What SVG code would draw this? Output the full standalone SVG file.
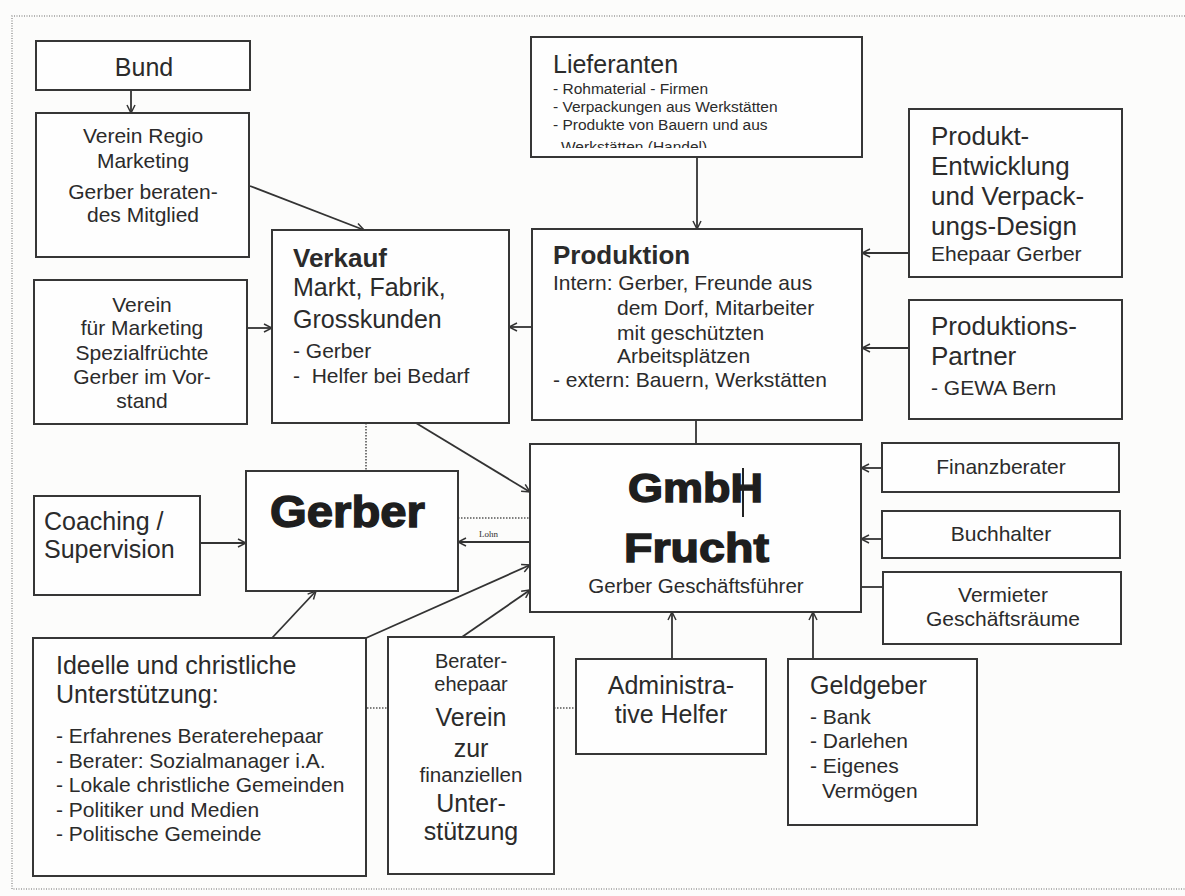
<svg xmlns="http://www.w3.org/2000/svg" width="1185" height="896" viewBox="0 0 1185 896">
<defs>
<style>
.bg{fill:#fcfcfb}
.box{fill:#fefefe;stroke:#363636;stroke-width:2}
.t{font-family:"Liberation Sans",Arial,sans-serif;fill:#2b2b2b}
.c{text-anchor:middle}
.b{font-weight:bold}
.heavy{font-weight:bold;stroke:#1e1e1e;stroke-width:1.4;fill:#1e1e1e}
.ln{stroke:#333;stroke-width:1.8;fill:none}
.arr{marker-end:url(#ah)}
.dot{stroke:#555;stroke-width:1.6;stroke-dasharray:1.5 1.5;fill:none}
.frame{stroke:#9a9a9a;stroke-width:1.5;stroke-dasharray:1 1.5;fill:none}
</style>
<marker id="ah" viewBox="0 0 10 10" refX="9" refY="5" markerWidth="10" markerHeight="10" markerUnits="userSpaceOnUse" orient="auto">
<path d="M1,1 L9,5 L1,9" fill="none" stroke="#333" stroke-width="1.5"/>
</marker>
<clipPath id="liefclip"><rect x="531" y="37" width="331" height="111"/></clipPath>
</defs>
<rect class="bg" x="0" y="0" width="1185" height="896"/>
<path class="frame" d="M1185,16 H12 V889 H1185"/>

<g id="connectors">
<line class="ln arr" x1="131" y1="90" x2="131" y2="113"/>
<line class="ln arr" x1="250" y1="186" x2="364" y2="230"/>
<line class="ln arr" x1="247" y1="328" x2="272" y2="328"/>
<line class="ln arr" x1="532" y1="327" x2="509" y2="327"/>
<line class="ln arr" x1="697" y1="157" x2="697" y2="229"/>
<line class="ln arr" x1="909" y1="253" x2="862" y2="253"/>
<line class="ln arr" x1="909" y1="348" x2="862" y2="348"/>
<line class="ln" x1="696" y1="420" x2="696" y2="444"/>
<line class="ln arr" x1="416" y1="423" x2="530" y2="492"/>
<line class="dot" x1="366" y1="423" x2="366" y2="471"/>
<line class="dot" x1="458" y1="518" x2="530" y2="518"/>
<line class="ln arr" x1="530" y1="542" x2="458" y2="542"/>
<line class="ln arr" x1="200" y1="543" x2="246" y2="543"/>
<line class="ln arr" x1="272" y1="638" x2="316" y2="591"/>
<line class="ln arr" x1="366" y1="638" x2="530" y2="565"/>
<line class="ln arr" x1="462" y1="637" x2="530" y2="590"/>
<line class="ln arr" x1="882" y1="468" x2="861" y2="468"/>
<line class="ln arr" x1="882" y1="539" x2="861" y2="539"/>
<line class="ln" x1="883" y1="587" x2="861" y2="587"/>
<line class="ln arr" x1="672" y1="659" x2="672" y2="612"/>
<line class="ln arr" x1="813" y1="659" x2="813" y2="612"/>
<line class="dot" x1="364" y1="708" x2="388" y2="708"/>
<line class="dot" x1="554" y1="708" x2="576" y2="708"/>
<text x="479" y="537" font-family="'Liberation Serif',serif" font-size="9" fill="#333">Lohn</text>
</g>

<g id="bund">
<rect class="box" x="36" y="41" width="214" height="49"/>
<text class="t c" x="144" y="76" font-size="25">Bund</text>
</g>

<g id="verein-regio">
<rect class="box" x="36" y="113" width="213" height="144"/>
<text class="t c" x="143" y="143" font-size="21">Verein Regio</text>
<text class="t c" x="143" y="168" font-size="21">Marketing</text>
<text class="t c" x="143" y="199" font-size="21">Gerber beraten-</text>
<text class="t c" x="143" y="222" font-size="21">des Mitglied</text>
</g>

<g id="verein-marketing">
<rect class="box" x="34" y="280" width="213" height="144"/>
<text class="t c" x="142" y="312" font-size="21">Verein</text>
<text class="t c" x="142" y="335" font-size="21">für Marketing</text>
<text class="t c" x="142" y="360" font-size="21">Spezialfrüchte</text>
<text class="t c" x="142" y="384" font-size="21">Gerber im Vor-</text>
<text class="t c" x="142" y="408" font-size="21">stand</text>
</g>

<g id="verkauf">
<rect class="box" x="272" y="230" width="237" height="193"/>
<text class="t b" x="293" y="267" font-size="26">Verkauf</text>
<text class="t" x="293" y="296" font-size="25">Markt, Fabrik,</text>
<text class="t" x="293" y="328" font-size="25">Grosskunden</text>
<text class="t" x="293" y="358" font-size="21">- Gerber</text>
<text class="t" x="293" y="383" font-size="21" xml:space="preserve">-  Helfer bei Bedarf</text>
</g>

<g id="lieferanten">
<rect class="box" x="531" y="37" width="331" height="120"/>
<text class="t" x="553" y="73" font-size="25">Lieferanten</text>
<text class="t" x="553" y="94" font-size="15.5">- Rohmaterial - Firmen</text>
<text class="t" x="553" y="112" font-size="15.5">- Verpackungen aus Werkstätten</text>
<text class="t" x="553" y="130" font-size="15.5">- Produkte von Bauern und aus</text>
<text class="t" x="561" y="152" font-size="15.5" clip-path="url(#liefclip)">Werkstätten (Handel)</text>
</g>

<g id="produktion">
<rect class="box" x="532" y="229" width="330" height="191"/>
<text class="t b" x="553" y="264" font-size="26">Produktion</text>
<text class="t" x="553" y="290" font-size="21">Intern: Gerber, Freunde aus</text>
<text class="t" x="617" y="315" font-size="21">dem Dorf, Mitarbeiter</text>
<text class="t" x="617" y="340" font-size="21">mit geschützten</text>
<text class="t" x="617" y="363" font-size="21">Arbeitsplätzen</text>
<text class="t" x="553" y="387" font-size="21">- extern: Bauern, Werkstätten</text>
</g>

<g id="produkt-entwicklung">
<rect class="box" x="909" y="109" width="213" height="168"/>
<text class="t" x="931" y="145" font-size="26">Produkt-</text>
<text class="t" x="931" y="175" font-size="26">Entwicklung</text>
<text class="t" x="931" y="205" font-size="26">und Verpack-</text>
<text class="t" x="931" y="235" font-size="26">ungs-Design</text>
<text class="t" x="931" y="261" font-size="21">Ehepaar Gerber</text>
</g>

<g id="produktions-partner">
<rect class="box" x="909" y="300" width="213" height="119"/>
<text class="t" x="931" y="335" font-size="26">Produktions-</text>
<text class="t" x="931" y="365" font-size="26">Partner</text>
<text class="t" x="931" y="395" font-size="21">- GEWA Bern</text>
</g>

<g id="gmbh">
<rect class="box" x="530" y="444" width="331" height="168"/>
<text class="t heavy" x="628" y="502" font-size="40" textLength="135" lengthAdjust="spacingAndGlyphs">GmbH</text>
<line x1="743" y1="468" x2="743" y2="517" stroke="#222" stroke-width="2"/>
<text class="t heavy" x="624" y="562" font-size="40" textLength="145" lengthAdjust="spacingAndGlyphs">Frucht</text>
<text class="t c" x="696" y="593" font-size="20.5">Gerber Geschäftsführer</text>
</g>

<g id="finanzberater">
<rect class="box" x="882" y="443" width="237" height="49"/>
<text class="t c" x="1001" y="474" font-size="21">Finanzberater</text>
</g>

<g id="buchhalter">
<rect class="box" x="882" y="511" width="238" height="47"/>
<text class="t c" x="1001" y="541" font-size="21">Buchhalter</text>
</g>

<g id="vermieter">
<rect class="box" x="883" y="572" width="238" height="72"/>
<text class="t c" x="1003" y="602" font-size="21">Vermieter</text>
<text class="t c" x="1003" y="626" font-size="21">Geschäftsräume</text>
</g>

<g id="gerber">
<rect class="box" x="246" y="471" width="212" height="120"/>
<text class="t heavy" x="270" y="527" font-size="44" textLength="155" lengthAdjust="spacingAndGlyphs">Gerber</text>
</g>

<g id="coaching">
<rect class="box" x="34" y="496" width="166" height="99"/>
<text class="t" x="44" y="530" font-size="25">Coaching /</text>
<text class="t" x="44" y="558" font-size="25">Supervision</text>
</g>

<g id="ideelle">
<rect class="box" x="33" y="638" width="333" height="238"/>
<text class="t" x="56" y="674" font-size="25">Ideelle und christliche</text>
<text class="t" x="56" y="703" font-size="25">Unterstützung:</text>
<text class="t" x="56" y="743" font-size="21">- Erfahrenes Beraterehepaar</text>
<text class="t" x="56" y="768" font-size="21">- Berater: Sozialmanager i.A.</text>
<text class="t" x="56" y="792" font-size="21">- Lokale christliche Gemeinden</text>
<text class="t" x="56" y="817" font-size="21">- Politiker und Medien</text>
<text class="t" x="56" y="841" font-size="21">- Politische Gemeinde</text>
</g>

<g id="verein-finanziell">
<rect class="box" x="388" y="637" width="166" height="237"/>
<text class="t c" x="471" y="668" font-size="20">Berater-</text>
<text class="t c" x="471" y="691" font-size="20">ehepaar</text>
<text class="t c" x="471" y="726" font-size="25">Verein</text>
<text class="t c" x="471" y="757" font-size="25">zur</text>
<text class="t c" x="471" y="782" font-size="20" textLength="103" lengthAdjust="spacingAndGlyphs">finanziellen</text>
<text class="t c" x="471" y="812" font-size="25">Unter-</text>
<text class="t c" x="471" y="840" font-size="25">stützung</text>
</g>

<g id="administrative">
<rect class="box" x="576" y="659" width="190" height="95"/>
<text class="t c" x="671" y="694" font-size="25">Administra-</text>
<text class="t c" x="671" y="723" font-size="25">tive Helfer</text>
</g>

<g id="geldgeber">
<rect class="box" x="788" y="659" width="189" height="166"/>
<text class="t" x="810" y="694" font-size="25">Geldgeber</text>
<text class="t" x="810" y="724" font-size="21">- Bank</text>
<text class="t" x="810" y="748" font-size="21">- Darlehen</text>
<text class="t" x="810" y="773" font-size="21">- Eigenes</text>
<text class="t" x="822" y="798" font-size="21">Vermögen</text>
</g>
</svg>
